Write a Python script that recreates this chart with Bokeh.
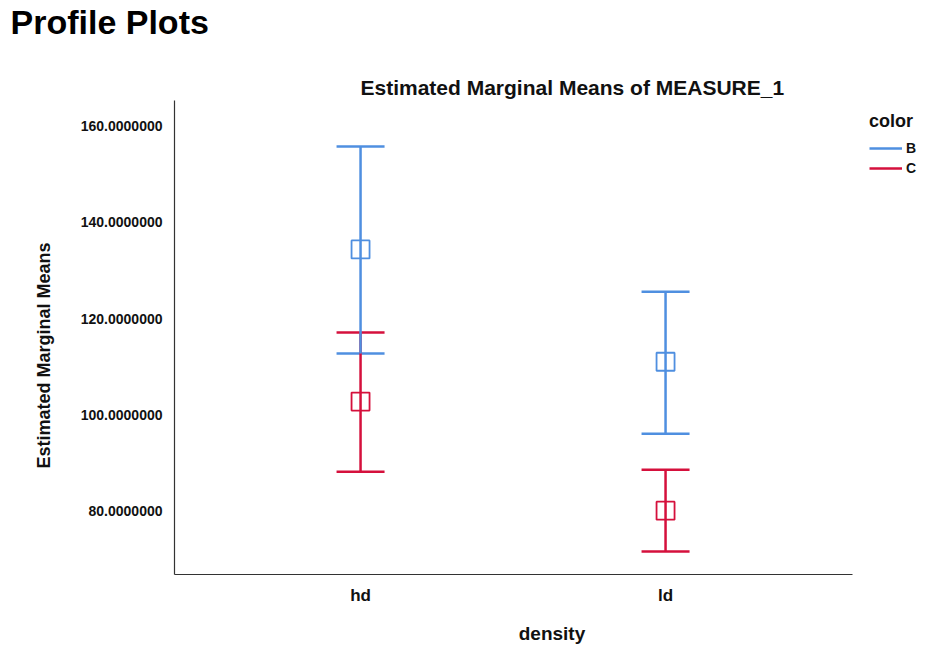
from bokeh.plotting import figure
from bokeh.models import (ColumnDataSource, Range1d, Whisker, TeeHead,
                          Legend, LegendItem, Title, NumeralTickFormatter, FixedTicker)
from bokeh.embed import file_html
from bokeh.resources import INLINE

# ---- data ----
densities = ["hd", "ld"]
b_mean = [134.4, 111.0]
b_upper = [155.8, 125.6]
b_lower = [112.7, 96.0]
c_mean = [102.7, 80.0]
c_upper = [117.1, 88.5]
c_lower = [88.1, 71.5]
y_ticks = [80, 100, 120, 140, 160]
series = ["B", "C"]

BLUE = "#4F8FE0"
RED = "#D5103C"
FONT = "Liberation Sans"

# category positions on a numeric axis (frame extends under the legend area)
xpos = list(range(len(densities)))
X_START = -0.61
X_AXIS_END = 1.613
FRAME_W = 929 - 174
X_END = X_START + FRAME_W / 305.0

p = figure(width=929, height=648, output_backend="svg", toolbar_location=None,
           x_range=Range1d(X_START, X_END),
           y_range=Range1d(66.7, 165.4),
           min_border_left=174, min_border_right=0, min_border_top=100,
           min_border_bottom=74)
p.title = None
p.outline_line_color = None
p.xgrid.visible = False
p.ygrid.visible = False

src_b = ColumnDataSource(dict(x=xpos, m=b_mean, u=b_upper, l=b_lower))
src_c = ColumnDataSource(dict(x=xpos, m=c_mean, u=c_upper, l=c_lower))

legend_items = []
for src, col, name in ((src_c, RED, series[1]), (src_b, BLUE, series[0])):
    stem = p.segment(x0="x", y0="l", x1="x", y1="u", source=src, line_color=col, line_width=2.5)
    w = Whisker(source=src, base="x", upper="u", lower="l", line_alpha=0,
                upper_head=TeeHead(size=48, line_color=col, line_width=2.5),
                lower_head=TeeHead(size=48, line_color=col, line_width=2.5))
    p.add_layout(w)
    p.scatter("x", "m", source=src, marker="square", size=18, fill_color=None,
              line_color=col, line_width=1.8)
    legend_items.insert(0, LegendItem(label=name, renderers=[stem]))

leg = Legend(items=legend_items, location=(695, 398), title="color", margin=0, padding=0,
             title_text_font=FONT, title_text_font_style="bold", title_text_font_size="18px",
             title_text_color="#111111", title_standoff=8,
             label_text_font=FONT, label_text_font_style="bold", label_text_font_size="14px",
             label_text_color="#111111", glyph_width=33, glyph_height=16, label_standoff=4,
             spacing=4, border_line_color=None, background_fill_alpha=0)
p.add_layout(leg, "center")

# axes
p.yaxis.ticker = FixedTicker(ticks=y_ticks)
p.yaxis.formatter = NumeralTickFormatter(format="0.0000000")
p.xaxis.ticker = FixedTicker(ticks=xpos)
p.xaxis.major_label_overrides = {i: d for i, d in zip(xpos, densities)}
p.xaxis.bounds = (X_START, X_AXIS_END)
for ax in (p.xaxis[0], p.yaxis[0]):
    ax.major_tick_line_color = None
    ax.minor_tick_line_color = None
    ax.axis_line_color = "#333333"
    ax.axis_line_width = 1.2
    ax.major_label_text_font = FONT
    ax.major_label_text_font_style = "bold"
    ax.major_label_text_color = "#111111"
    ax.axis_label_text_font = FONT
    ax.axis_label_text_font_style = "bold"
    ax.axis_label_text_color = "#111111"
p.yaxis.major_label_text_font_size = "14px"
p.yaxis.major_label_standoff = 6
p.xaxis.major_label_text_font_size = "17px"
p.xaxis.major_label_standoff = 5
p.xaxis.axis_label = "density"
p.xaxis.axis_label_text_font_size = "19px"
p.xaxis.axis_label_standoff = 15

# y axis title as a side title for precise placement
p.add_layout(Title(text="Estimated Marginal Means", align="left", offset=106,
                   text_font=FONT, text_font_style="bold", text_font_size="18px",
                   text_color="#111111", standoff=48), "left")

# chart title (inner), spacer, page title (outer)
p.add_layout(Title(text="Estimated Marginal Means of MEASURE_1", align="left", offset=186,
                   text_font=FONT, text_font_style="bold", text_font_size="21px",
                   text_color="#111111", standoff=4), "above")
p.add_layout(Title(text=" ", text_font_size="20px", standoff=7), "above")
p.add_layout(Title(text="Profile Plots", align="left", offset=-164,
                   text_font=FONT, text_font_style="bold", text_font_size="34px",
                   text_color="#000000", standoff=0), "above")

open("out.html", "w").write(file_html(p, INLINE))
